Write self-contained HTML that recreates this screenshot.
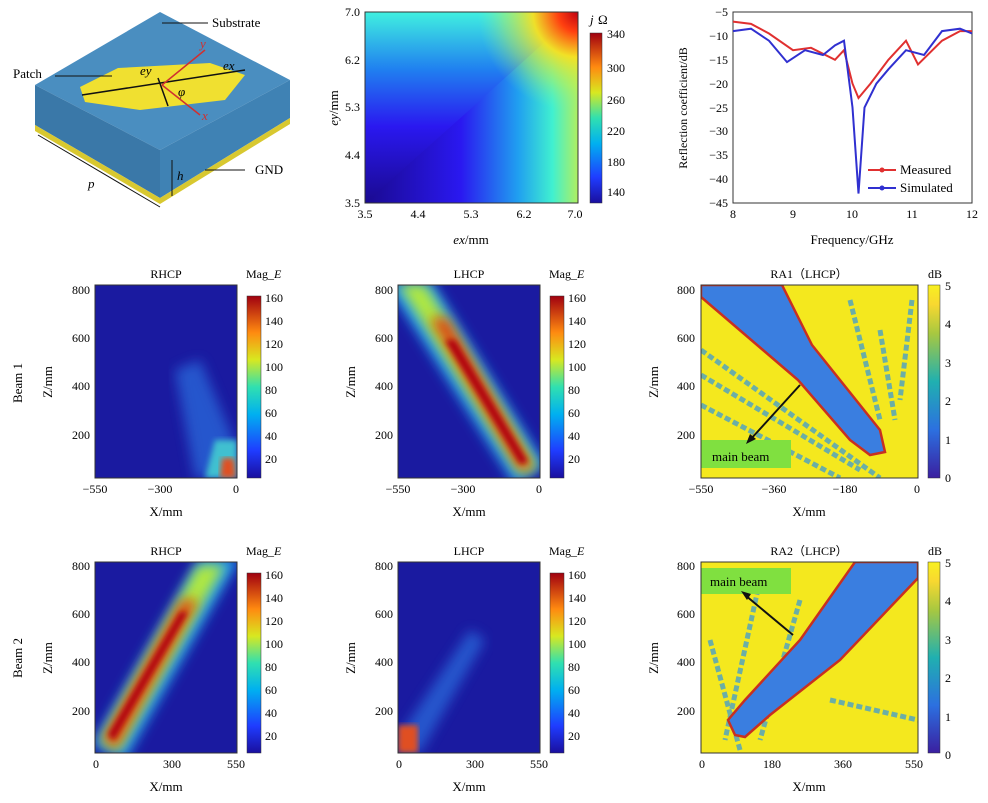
<!DOCTYPE html><html><head><meta charset="utf-8"><style>body{margin:0;background:#fff}svg{display:block;font-family:"Liberation Serif",serif}</style></head><body>
<svg width="988" height="803" viewBox="0 0 988 803" font-size="13">
<defs>
<linearGradient id="jet" x1="0" y1="1" x2="0" y2="0">
<stop offset="0" stop-color="#1a0f9e"/><stop offset=".15" stop-color="#1f3cff"/><stop offset=".35" stop-color="#00b0f0"/><stop offset=".5" stop-color="#30e0b0"/><stop offset=".65" stop-color="#d8e820"/><stop offset=".8" stop-color="#ff8a10"/><stop offset="1" stop-color="#a00010"/></linearGradient>
<linearGradient id="par" x1="0" y1="1" x2="0" y2="0">
<stop offset="0" stop-color="#3a1fa0"/><stop offset=".25" stop-color="#2c70e0"/><stop offset=".5" stop-color="#20b0b0"/><stop offset=".75" stop-color="#a8c840"/><stop offset=".9" stop-color="#f8d830"/><stop offset="1" stop-color="#f8f020"/></linearGradient>
<linearGradient id="zv" gradientUnits="userSpaceOnUse" x1="0" y1="203" x2="0" y2="12">
<stop offset="0" stop-color="#1a0a90"/><stop offset=".4" stop-color="#2a18f0"/><stop offset=".7" stop-color="#2080f0"/><stop offset="1" stop-color="#40f0e0"/></linearGradient>
<linearGradient id="zx" gradientUnits="userSpaceOnUse" x1="365" y1="0" x2="578" y2="0">
<stop offset="0" stop-color="#1a0a90"/><stop offset=".45" stop-color="#2a18f0"/><stop offset=".72" stop-color="#20a0f0"/><stop offset=".88" stop-color="#40f0d0"/><stop offset="1" stop-color="#b0f060"/></linearGradient>
<radialGradient id="zr" gradientUnits="userSpaceOnUse" cx="578" cy="12" r="100">
<stop offset="0" stop-color="#c00010"/><stop offset=".2" stop-color="#ff4010"/><stop offset=".45" stop-color="#f8e020" stop-opacity=".95"/><stop offset=".75" stop-color="#c0f050" stop-opacity=".45"/><stop offset="1" stop-color="#80f0a0" stop-opacity="0"/></radialGradient>
<filter id="b6"><feGaussianBlur stdDeviation="6"/></filter>
<filter id="b3"><feGaussianBlur stdDeviation="3"/></filter>
<clipPath id="c0"><rect x="365" y="12" width="213" height="191"/></clipPath>
<clipPath id="c1"><rect x="95" y="285" width="142" height="193"/></clipPath>
<clipPath id="c2"><rect x="398" y="285" width="142" height="193"/></clipPath>
<clipPath id="c3"><rect x="95" y="562" width="142" height="191"/></clipPath>
<clipPath id="c4"><rect x="398" y="562" width="142" height="191"/></clipPath>
<clipPath id="c5"><rect x="701" y="285" width="217" height="193"/></clipPath>
<clipPath id="c6"><rect x="701" y="562" width="217" height="191"/></clipPath>
</defs>

<polygon points="160,12 290,80 160,150 35,85" fill="#4a8ec0"/>
<polygon points="35,85 160,150 160,198 35,125" fill="#3a78a8"/>
<polygon points="160,150 290,80 290,118 160,198" fill="#3f82b4"/>
<polygon points="35,125 160,198 160,204 35,131" fill="#d8c830"/>
<polygon points="160,198 290,118 290,124 160,204" fill="#d8c830"/>
<polygon points="80,87 118,68 210,63 245,75 225,100 140,110 85,102" fill="#f0e030"/>
<line x1="82" y1="95" x2="245" y2="70" stroke="#111" stroke-width="1.5"/>
<line x1="158" y1="78" x2="168" y2="106" stroke="#111" stroke-width="1.5"/>
<line x1="162" y1="85" x2="205" y2="50" stroke="#d03030" stroke-width="1.5"/>
<line x1="162" y1="85" x2="200" y2="115" stroke="#d03030" stroke-width="1.5"/>
<text x="200" y="48" fill="#d03030" font-style="italic">y</text><text x="202" y="120" fill="#d03030" font-style="italic">x</text>
<text x="140" y="75" font-style="italic">ey</text><text x="223" y="70" font-style="italic">ex</text><text x="178" y="96" font-style="italic">φ</text>
<line x1="162" y1="23" x2="208" y2="23" stroke="#111"/><text x="212" y="27">Substrate</text>
<line x1="55" y1="76" x2="112" y2="76" stroke="#111"/><text x="13" y="78">Patch</text>
<line x1="205" y1="170" x2="245" y2="170" stroke="#111"/><text x="255" y="174">GND</text>
<line x1="38" y1="135" x2="160" y2="207" stroke="#111"/><text x="88" y="188" font-style="italic">p</text>
<line x1="172" y1="160" x2="172" y2="196" stroke="#111"/><text x="177" y="180" font-style="italic">h</text>

<g clip-path="url(#c0)">
<polygon points="365,203 365,12 578,12 475,105" fill="url(#zv)" stroke="url(#zv)" stroke-width="1"/>
<polygon points="365,203 475,105 578,12 578,203" fill="url(#zx)"/>
<rect x="365" y="12" width="213" height="191" fill="url(#zr)"/>
</g>
<rect x="365" y="12" width="213" height="191" fill="none" stroke="#333"/>
<rect x="590" y="33" width="12" height="170" fill="url(#jet)" stroke="#333" stroke-width=".5"/>
<g font-size="12"><text x="607" y="38">340</text><text x="607" y="72">300</text><text x="607" y="104">260</text><text x="607" y="135">220</text><text x="607" y="166">180</text><text x="607" y="196">140</text></g>
<text x="590" y="24" font-style="italic">j</text><text x="598" y="24">Ω</text>
<g font-size="12" text-anchor="end"><text x="360" y="16">7.0</text><text x="360" y="64">6.2</text><text x="360" y="111">5.3</text><text x="360" y="159">4.4</text><text x="360" y="207">3.5</text></g>
<g font-size="12" text-anchor="middle"><text x="365" y="218">3.5</text><text x="418" y="218">4.4</text><text x="471" y="218">5.3</text><text x="524" y="218">6.2</text><text x="575" y="218">7.0</text></g>
<text x="471" y="244" text-anchor="middle"><tspan font-style="italic">ex</tspan>/mm</text>
<text transform="translate(338,108) rotate(-90)" text-anchor="middle"><tspan font-style="italic">ey</tspan>/mm</text>

<rect x="733" y="12" width="239" height="191" fill="none" stroke="#333"/>
<g font-size="12" text-anchor="end"><text x="728" y="16">−5</text><text x="728" y="40">−10</text><text x="728" y="64">−15</text><text x="728" y="88">−20</text><text x="728" y="112">−25</text><text x="728" y="135">−30</text><text x="728" y="159">−35</text><text x="728" y="183">−40</text><text x="728" y="207">−45</text></g>
<g font-size="12" text-anchor="middle"><text x="733" y="218">8</text><text x="793" y="218">9</text><text x="852" y="218">10</text><text x="912" y="218">11</text><text x="972" y="218">12</text></g>
<text x="852" y="244" text-anchor="middle">Frequency/GHz</text>
<text transform="translate(687,108) rotate(-90)" text-anchor="middle" font-size="12">Reflection coefficient/dB</text>
<polyline fill="none" stroke="#e03030" stroke-width="2" points="733,21.6 751,23.9 769,33.5 793,50.2 811,47.8 835,59.8 844,50.2 852.5,83.6 858.5,98 870.5,83.6 888.4,59.8 906,40.7 918,64.5 942,40.7 960,31.1 972,31.1"/>
<polyline fill="none" stroke="#3030d0" stroke-width="2" points="733,31.1 751,28.7 769,40.7 787,62.1 805,50.2 823,55 835,45.4 844,40.7 852.5,107.5 858.5,193.5 864.5,107.5 876.4,83.6 888.4,69.3 906,50.2 924,55 942,31.1 960,28.7 972,33.5"/>
<line x1="868" y1="170" x2="896" y2="170" stroke="#e03030" stroke-width="2"/><circle cx="882" cy="170" r="2.5" fill="#e03030"/>
<line x1="868" y1="188" x2="896" y2="188" stroke="#3030d0" stroke-width="2"/><circle cx="882" cy="188" r="2.5" fill="#3030d0"/>
<text x="900" y="174">Measured</text><text x="900" y="192">Simulated</text>

<text transform="translate(22,383) rotate(-90)" text-anchor="middle">Beam 1</text>
<text transform="translate(22,658) rotate(-90)" text-anchor="middle">Beam 2</text>

<g clip-path="url(#c1)">
<rect x="95" y="285" width="142" height="193" fill="#1a1aa0"/>
<polygon points="175,370 200,360 240,455 230,478 195,478" fill="#2a70e0" filter="url(#b6)" opacity=".7"/><polygon points="215,440 237,440 237,478 205,478" fill="#40c0d0" filter="url(#b3)"/><polygon points="222,458 234,458 236,478 220,478" fill="#e05020" filter="url(#b3)"/></g>
<g clip-path="url(#c2)">
<rect x="398" y="285" width="142" height="193" fill="#1a1aa0"/>
<polygon points="385,282 432,282 545,465 515,485" fill="#20a0f0" filter="url(#b6)"/>
<polygon points="398,284 425,284 538,468 520,475" fill="#b0e840" filter="url(#b6)"/>
<polygon points="430,318 447,318 533,468 520,470" fill="#e04010" filter="url(#b6)"/>
<polygon points="445,340 455,340 528,462 520,464" fill="#b00010" filter="url(#b3)"/>
</g>
<g clip-path="url(#c3)">
<rect x="95" y="562" width="142" height="191" fill="#1a1aa0"/>
<polygon points="92,745 200,558 240,558 125,760" fill="#20a0f0" filter="url(#b6)"/>
<polygon points="100,742 198,565 225,565 118,752" fill="#b0e840" filter="url(#b6)"/>
<polygon points="103,740 182,600 198,600 116,748" fill="#e04010" filter="url(#b6)"/>
<polygon points="108,735 180,612 188,612 114,740" fill="#b00010" filter="url(#b3)"/>
</g>
<g clip-path="url(#c4)">
<rect x="398" y="562" width="142" height="191" fill="#1a1aa0"/>
<polygon points="400,735 470,630 485,640 420,753 400,753" fill="#2a70e0" filter="url(#b6)" opacity=".7"/>
<polygon points="398,725 418,725 418,753 398,753" fill="#e05020" filter="url(#b3)"/>
</g>
<g fill="none" stroke="#333"><rect x="95" y="285" width="142" height="193"/><rect x="398" y="285" width="142" height="193"/><rect x="95" y="562" width="142" height="191"/><rect x="398" y="562" width="142" height="191"/></g>

<g font-size="12">
<text x="166" y="278" text-anchor="middle">RHCP</text><text x="469" y="278" text-anchor="middle">LHCP</text>
<text x="166" y="555" text-anchor="middle">RHCP</text><text x="469" y="555" text-anchor="middle">LHCP</text>
<text x="246" y="278">Mag_<tspan font-style="italic">E</tspan></text><text x="549" y="278">Mag_<tspan font-style="italic">E</tspan></text>
<text x="246" y="555">Mag_<tspan font-style="italic">E</tspan></text><text x="549" y="555">Mag_<tspan font-style="italic">E</tspan></text>
</g>
<g stroke="#333" stroke-width=".5" fill="url(#jet)"><rect x="247" y="296" width="14" height="182"/><rect x="550" y="296" width="14" height="182"/><rect x="247" y="573" width="14" height="180"/><rect x="550" y="573" width="14" height="180"/></g>
<g font-size="12">
<g id="cb"><text x="265" y="302">160</text><text x="265" y="325">140</text><text x="265" y="348">120</text><text x="265" y="371">100</text><text x="265" y="394">80</text><text x="265" y="417">60</text><text x="265" y="440">40</text><text x="265" y="463">20</text></g>
<use href="#cb" x="303"/><use href="#cb" y="277"/><use href="#cb" x="303" y="277"/>
<g id="zt" text-anchor="end"><text x="90" y="294">800</text><text x="90" y="342">600</text><text x="90" y="390">400</text><text x="90" y="439">200</text></g>
<use href="#zt" x="303"/><use href="#zt" x="605"/>
<use href="#zt" y="276"/><use href="#zt" x="303" y="276"/><use href="#zt" x="605" y="276"/>
<g text-anchor="middle"><text x="95" y="493">−550</text><text x="160" y="493">−300</text><text x="236" y="493">0</text>
<text x="398" y="493">−550</text><text x="463" y="493">−300</text><text x="539" y="493">0</text>
<text x="701" y="493">−550</text><text x="774" y="493">−360</text><text x="845" y="493">−180</text><text x="917" y="493">0</text>
<text x="96" y="768">0</text><text x="172" y="768">300</text><text x="236" y="768">550</text>
<text x="399" y="768">0</text><text x="475" y="768">300</text><text x="539" y="768">550</text>
<text x="702" y="768">0</text><text x="772" y="768">180</text><text x="843" y="768">360</text><text x="914" y="768">550</text></g>
</g>
<g text-anchor="middle"><text x="166" y="516">X/mm</text><text x="469" y="516">X/mm</text><text x="809" y="516">X/mm</text>
<text x="166" y="791">X/mm</text><text x="469" y="791">X/mm</text><text x="809" y="791">X/mm</text></g>
<g text-anchor="middle"><text transform="translate(52,382) rotate(-90)">Z/mm</text><text transform="translate(355,382) rotate(-90)">Z/mm</text><text transform="translate(658,382) rotate(-90)">Z/mm</text>
<text transform="translate(52,658) rotate(-90)">Z/mm</text><text transform="translate(355,658) rotate(-90)">Z/mm</text><text transform="translate(658,658) rotate(-90)">Z/mm</text></g>

<g clip-path="url(#c5)">
<rect x="701" y="285" width="217" height="193" fill="#f4e81e"/>
<g stroke="#4aa0c8" stroke-width="5" opacity=".8" stroke-dasharray="6 3"><line x1="701" y1="375" x2="860" y2="470"/><line x1="701" y1="405" x2="840" y2="478"/><line x1="701" y1="350" x2="880" y2="478"/><line x1="850" y1="300" x2="880" y2="420"/><line x1="880" y1="330" x2="895" y2="420"/><line x1="912" y1="300" x2="900" y2="400"/></g>
<path d="M701,297 L701,285 L782,285 L812,345 L852,395 L880,430 L885,452 L870,455 L850,440 L798,380 Z" fill="#3a7ee0" stroke="#c83020" stroke-width="2.5"/>
<rect x="701" y="440" width="90" height="28" fill="#80e040"/>
</g>
<line x1="800" y1="385" x2="750" y2="440" stroke="#111" stroke-width="2"/>
<polygon points="746,444 750,434 756,439" fill="#111"/>
<text x="712" y="461">main beam</text>
<g clip-path="url(#c6)">
<rect x="701" y="562" width="217" height="191" fill="#f4e81e"/>
<g stroke="#4aa0c8" stroke-width="5" opacity=".8" stroke-dasharray="6 3"><line x1="710" y1="640" x2="740" y2="750"/><line x1="760" y1="580" x2="725" y2="740"/><line x1="800" y1="600" x2="760" y2="740"/><line x1="830" y1="700" x2="918" y2="720"/></g>
<path d="M735,735 L728,720 L745,700 L800,640 L855,562 L918,562 L918,578 L840,660 L770,715 L745,737 Z" fill="#3a7ee0" stroke="#c83020" stroke-width="2.5"/>
<rect x="701" y="568" width="90" height="26" fill="#80e040"/>
</g>
<line x1="745" y1="595" x2="793" y2="635" stroke="#111" stroke-width="2"/>
<polygon points="741,591 751,594 747,600" fill="#111"/>
<text x="710" y="586">main beam</text>
<g fill="none" stroke="#333"><rect x="701" y="285" width="217" height="193"/><rect x="701" y="562" width="217" height="191"/></g>
<rect x="928" y="285" width="12" height="193" fill="url(#par)" stroke="#333" stroke-width=".5"/>
<rect x="928" y="562" width="12" height="191" fill="url(#par)" stroke="#333" stroke-width=".5"/>
<g font-size="12"><g id="rb"><text x="945" y="290">5</text><text x="945" y="328">4</text><text x="945" y="367">3</text><text x="945" y="405">2</text><text x="945" y="444">1</text><text x="945" y="482">0</text></g><use href="#rb" y="277"/>
<text x="928" y="278">dB</text><text x="928" y="555">dB</text>
<text x="809" y="278" text-anchor="middle">RA1（LHCP）</text><text x="809" y="555" text-anchor="middle">RA2（LHCP）</text></g>
</svg></body></html>
